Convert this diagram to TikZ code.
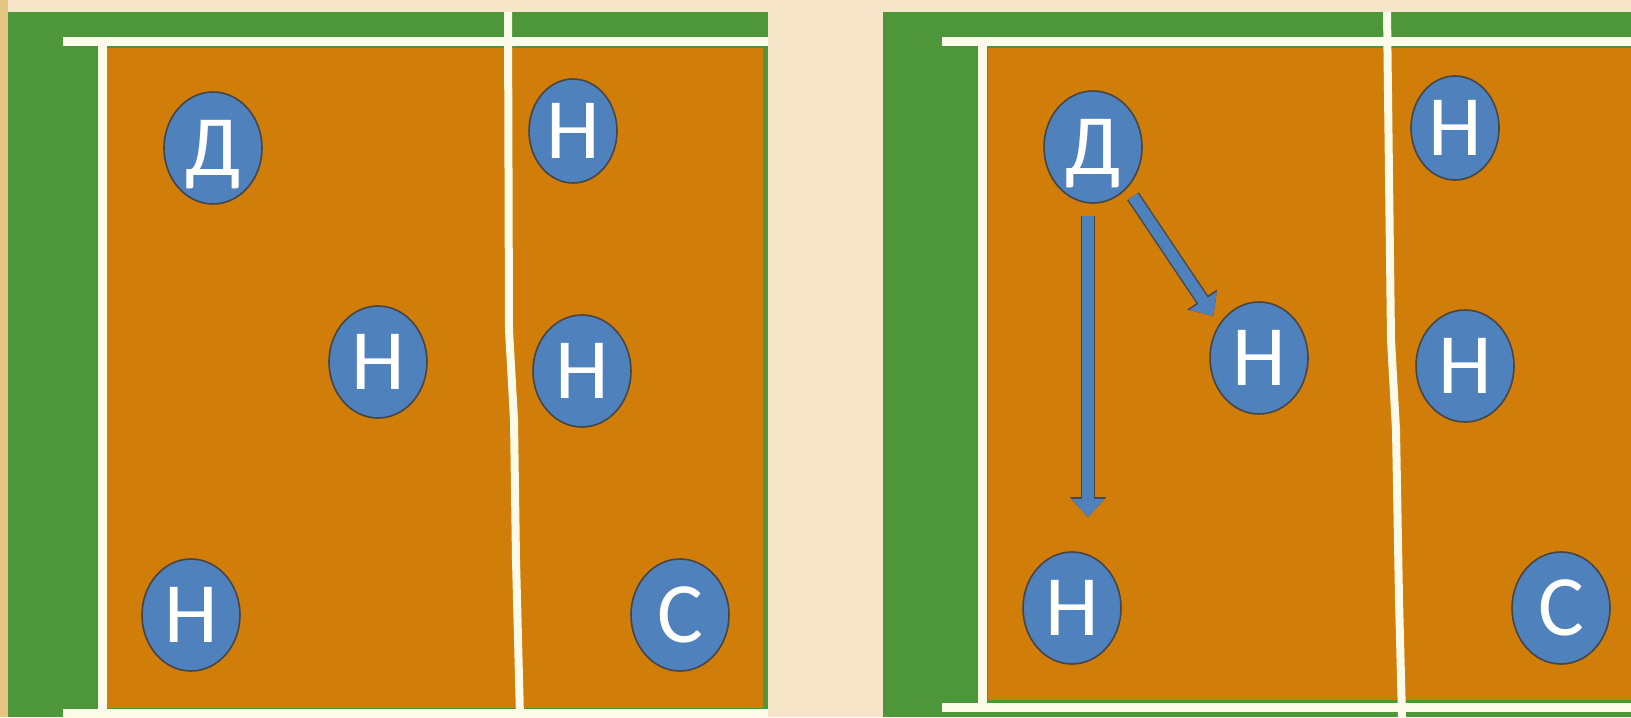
\documentclass[tikz,border=0pt]{standalone}
\usepackage{fontspec}
\newfontfamily\courtfont{Carlito}
\usepackage{tikz}
\usetikzlibrary{arrows.meta, shapes.geometric}

\definecolor{bgbeige}{RGB}{247,229,202}
\definecolor{edgetan}{RGB}{230,196,130}
\definecolor{courtgreen}{RGB}{77,150,57}
\definecolor{courtorange}{RGB}{208,125,10}
\definecolor{playerblue}{RGB}{79,129,189}
\definecolor{rimgray}{RGB}{70,70,70}
\definecolor{linewhite}{RGB}{252,250,232}

\begin{document}
\begin{tikzpicture}[
    x=0.5pt, y=-0.5pt,
    courtline/.style={draw=linewhite, line width=4.5pt},
    netline/.style={draw=linewhite, line width=4pt, line join=round},
    player/.style={
        ellipse, draw=rimgray, line width=0.8pt, fill=playerblue,
        minimum width=49pt, minimum height=56pt, inner sep=0pt,
        text=white, font=\courtfont\fontsize{43}{43}\selectfont,
        text height=27.7pt, text depth=0pt
    },
    smallplayer/.style={player, minimum width=44pt, minimum height=52pt},
    move/.style={
        draw=playerblue, line width=5.6pt, -{Triangle[width=16pt, length=9.2pt]},
        preaction={draw=rimgray, line width=7pt, -{Triangle[width=17.5pt, length=10pt]}}
    },
]
\useasboundingbox (0,0) rectangle (1631,717);

% ── Background ──
\fill[bgbeige] (0,0) rectangle (1631,717);
\fill[edgetan] (0,0) rectangle (8,717);

% ── Left court ──
\fill[courtgreen] (8,12) rectangle (768,717);
\fill[courtorange] (107,48) rectangle (763,708);
\draw[courtline] (63,42) -- (768,42);
\draw[courtline] (102,42) -- (102,717);
\draw[courtline] (63,713) -- (768,713);
\draw[netline] (508,12) -- (509,330) -- (514,420) -- (516,560) -- (520,717);

\node[player] (d1) at (213,148) {Д};
\node[smallplayer] (n1) at (573,131) {Н};
\node[player] (n2) at (378,362) {Н};
\node[player] (n3) at (582,371) {Н};
\node[player] (n4) at (191,615) {Н};
\node[player] (s1) at (680,615) {С};

% ── Right court ──
\fill[courtgreen] (883,12) rectangle (1631,717);
\fill[courtorange] (988,48) rectangle (1631,700);
\draw[courtline] (942,42) -- (1631,42);
\draw[courtline] (982,42) -- (982,708);
\draw[courtline] (942,707) -- (1631,707);
\draw[netline] (1387,12) -- (1391,340) -- (1396,430) -- (1399,600) -- (1402,717);

\node[player] (d2) at (1093,147) {Д};
\node[smallplayer] (n6) at (1455,128) {Н};
\node[player] (n7) at (1259,358) {Н};
\node[player] (n8) at (1465,366) {Н};
\node[player] (n9) at (1072,608) {Н};
\node[player] (s2) at (1561,608) {С};

% ── Moves ──
\coordinate (vtop) at ([xshift=-2.5pt]d2.south);
\draw[move, shorten <=6pt, shorten >=17pt] (vtop) -- (vtop |- n9.north);
\draw[move, shorten <=5pt, shorten >=5pt] (d2.-50) -- (n7.140);

\end{tikzpicture}
\end{document}
